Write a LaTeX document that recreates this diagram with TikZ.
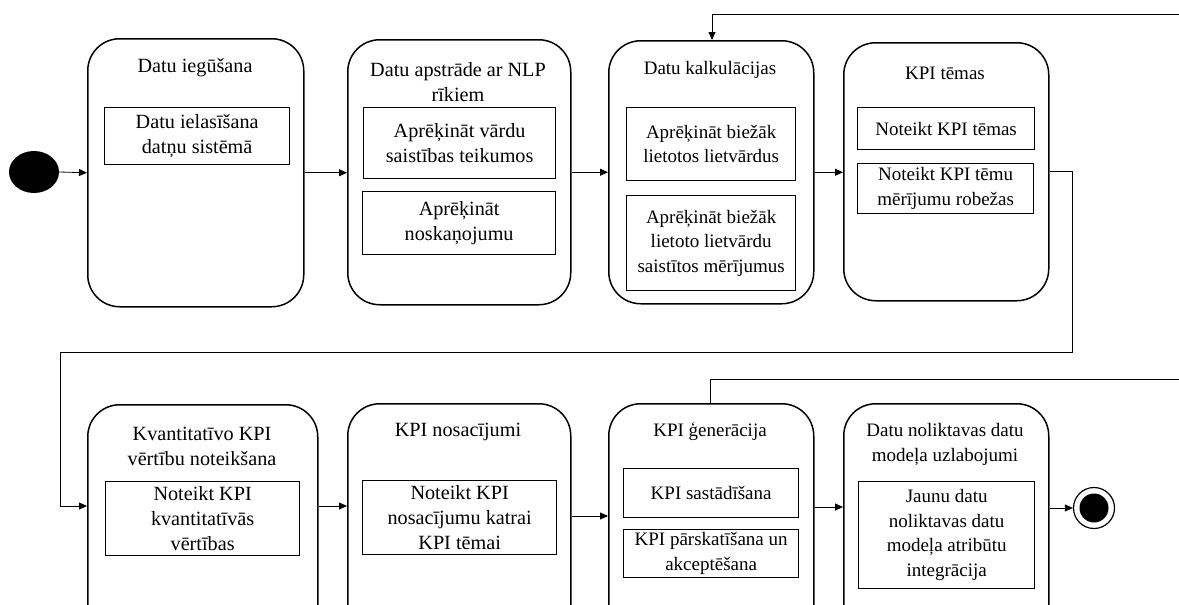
\documentclass[tikz,border=0pt]{standalone}
\usepackage{fontspec}
\setmainfont{Liberation Serif}
\usetikzlibrary{shapes.geometric,arrows.meta,calc}

\begin{document}
\begin{tikzpicture}[x=1pt,y=-1pt,
  font=\fontsize{19}{24.5}\selectfont,
  large/.style={font=\fontsize{20.2}{25}\selectfont},
  stage/.style={draw, line width=1.5pt, rounded corners=32pt, anchor=north west, inner sep=0pt},
  task/.style={draw, line width=1.3pt, anchor=north west, inner sep=0pt, align=center},
  title/.style={align=center, inner sep=0pt},
  flow/.style={line width=0.8pt, -{Triangle[length=8pt,width=7pt]}},
  wire/.style={line width=0.8pt}]

\useasboundingbox (0,0) rectangle (1179,605);
\clip (0,0) rectangle (1179,605);

% start and end states
\node[ellipse, fill, minimum width=50pt, minimum height=42pt, inner sep=0pt] (start) at (34,172) {};
\node[circle, draw, line width=1.2pt, minimum size=41pt, inner sep=0pt] (end) at (1094,508) {};
\node[circle, fill, minimum size=29pt, inner sep=0pt] (endc) at (end) {};

% upper row of stages
\node[stage, minimum width=216pt, minimum height=268pt] (b1) at (87,38) {};
\node[stage, minimum width=223pt, minimum height=265pt] (b2) at (347,39) {};
\node[stage, minimum width=205pt, minimum height=263pt] (b3) at (608,40) {};
\node[stage, minimum width=205pt, minimum height=258pt] (b4) at (843,42) {};

\node[title, large] (t1) at (195,68) {Datu iegūšana};
\node[title, large] (t2) at (458,82) {Datu apstrāde ar NLP\\rīkiem};
\node[title] (t3) at (710,70) {Datu kalkulācijas};
\node[title] (t4) at (945,73) {KPI tēmas};

\node[task, large, minimum width=185pt, minimum height=57pt] (i1) at (104,107) {Datu ielasīšana\\datņu sistēmā};
\node[task, large, minimum width=192pt, minimum height=71pt] (i2a) at (363,107) {Aprēķināt vārdu\\saistības teikumos};
\node[task, large, minimum width=193pt, minimum height=63pt] (i2b) at (362,191) {Aprēķināt\\noskaņojumu};
\node[task, minimum width=169pt, minimum height=73pt] (i3a) at (626,107) {Aprēķināt biežāk\\lietotos lietvārdus};
\node[task, minimum width=169pt, minimum height=95pt] (i3b) at (626,195) {Aprēķināt biežāk\\lietoto lietvārdu\\saistītos mērījumus};
\node[task, minimum width=177pt, minimum height=42pt] (i4a) at (857,107) {Noteikt KPI tēmas};
\node[task, minimum width=176pt, minimum height=50pt] (i4b) at (857,163) {Noteikt KPI tēmu\\mērījumu robežas};

% lower row of stages
\node[stage, minimum width=230pt, minimum height=268pt] (b5) at (87,404) {};
\node[stage, minimum width=223pt, minimum height=268pt] (b6) at (347,403) {};
\node[stage, minimum width=205pt, minimum height=268pt] (b7) at (608,403) {};
\node[stage, minimum width=205pt, minimum height=268pt] (b8) at (843,403) {};

\node[title, large] (t5) at (202,446) {Kvantitatīvo KPI\\vērtību noteikšana};
\node[title, large] (t6) at (458,432) {KPI nosacījumi};
\node[title] (t7) at (710,432) {KPI ģenerācija};
\node[title] (t8) at (945,444.5) {Datu noliktavas datu\\modeļa uzlabojumi};

\node[task, large, minimum width=194pt, minimum height=74pt] (i5) at (105,481) {Noteikt KPI\\kvantitatīvās\\vērtības};
\node[task, large, minimum width=194pt, minimum height=74pt] (i6) at (362,480) {Noteikt KPI\\nosacījumu katrai\\KPI tēmai};
\node[task, minimum width=175pt, minimum height=49pt] (i7a) at (623,468) {KPI sastādīšana};
\node[task, minimum width=175pt, minimum height=48pt] (i7b) at (623,529) {KPI pārskatīšana un\\akceptēšana};
\node[task, minimum width=176pt, minimum height=107pt] (i8) at (858,481) {Jaunu datu\\noliktavas datu\\modeļa atribūtu\\integrācija};

% bend points of the long connectors
\coordinate (bendR) at (1072,352);
\coordinate (bendL) at (60,352);
\coordinate (topR) at (1200,14);
\coordinate (midR) at (1200,379);

% upper row flow
\draw[flow] (start.east) -- (b1.west);
\draw[flow] (b1.east) -- (b1.east -| b2.west);
\draw[flow] (b2.east) -- (b2.east -| b3.west);
\draw[flow] (b3.east) -- (b3.east -| b4.west);

% wrap to the lower row
\draw[flow] (b4.east) -| (bendR) -- (bendL) |- ([yshift=-102pt]b5.north west);

% lower row flow
\draw[flow] ([yshift=-102pt]b5.north east) -- ([yshift=-103pt]b6.north west);
\draw[flow] ([yshift=-113pt]b6.north east) -- ([yshift=-113pt]b7.north west);
\draw[flow] ([yshift=-104pt]b7.north east) -- ([yshift=-104pt]b8.north west);
\draw[flow] (end.west -| b8.east) -- (end.west);

% return lines running off to the right
\draw[flow] (topR) -| ([xshift=104pt]b3.north west);
\draw[wire] ([xshift=102pt]b7.north west) |- (midR);

\end{tikzpicture}
\end{document}
